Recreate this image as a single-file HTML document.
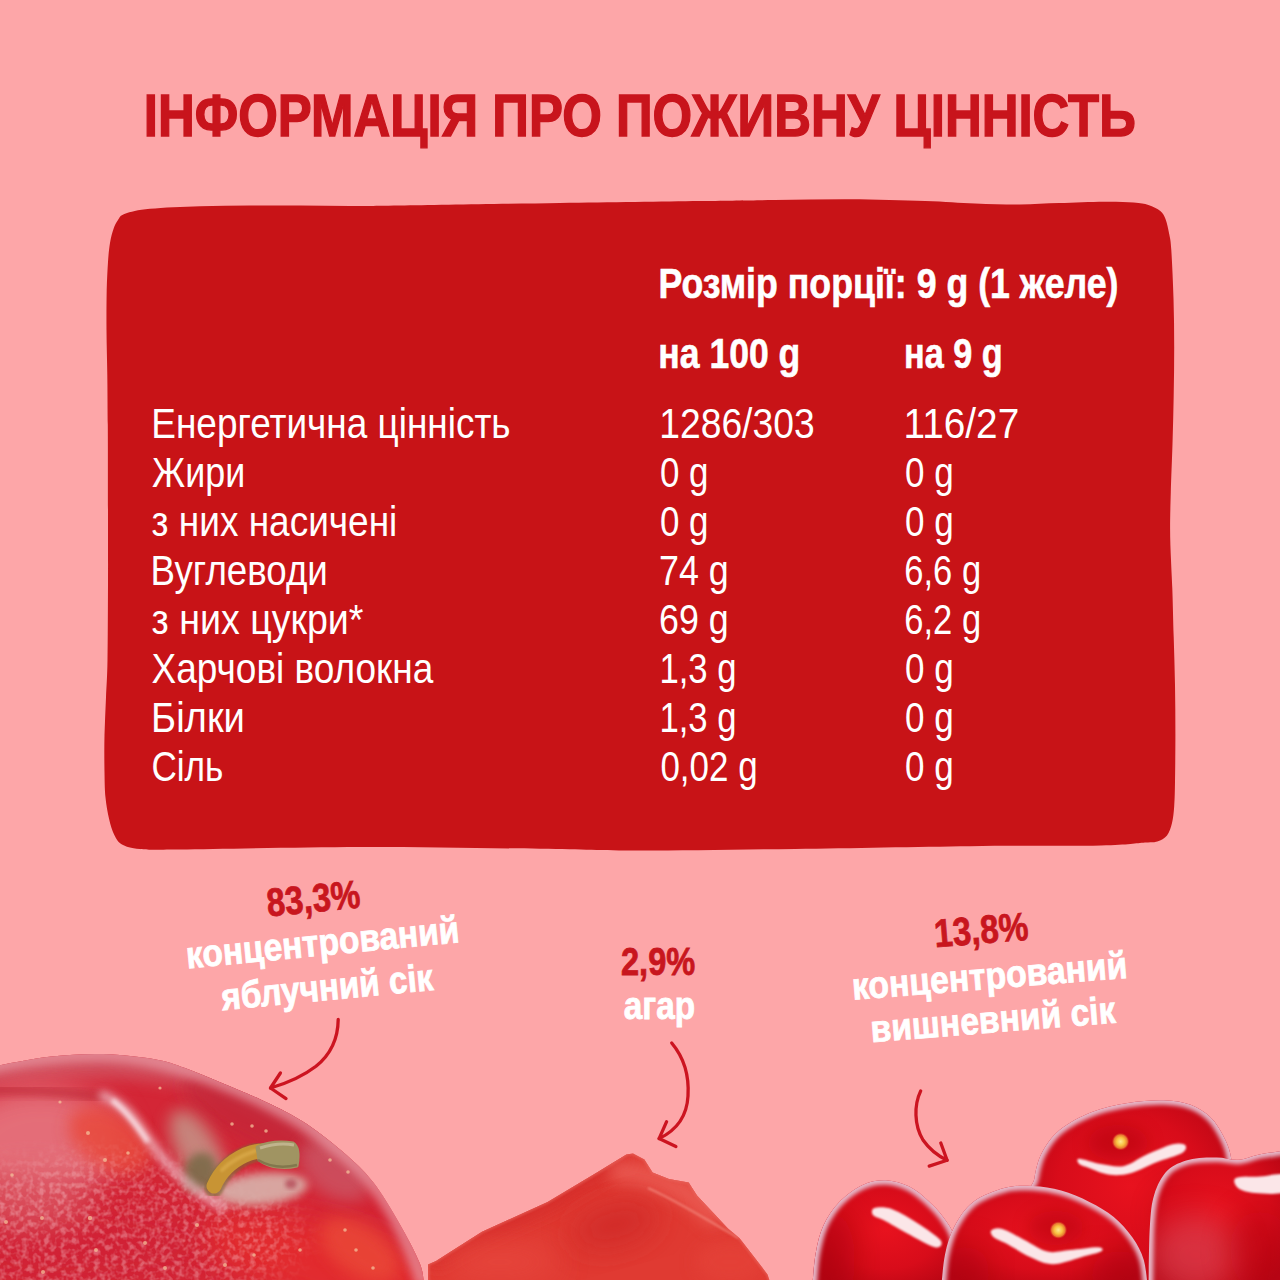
<!DOCTYPE html>
<html><head><meta charset="utf-8">
<style>
html,body{margin:0;padding:0;}
body{width:1280px;height:1280px;overflow:hidden;background:#fda6a8;}
svg{display:block;}
text{font-family:"Liberation Sans",sans-serif;}
.t{fill:#c8141c;stroke:#c8141c;stroke-width:1.4px;font-weight:bold;font-size:60px;}
.h{fill:#fff;stroke:#fff;stroke-width:0.6px;font-weight:bold;font-size:42.5px;}
.r{fill:#fff;font-size:42px;}
.p{fill:#c8161e;stroke:#c8161e;stroke-width:0.8px;font-weight:bold;font-size:39.5px;}
.w{fill:#fff;stroke:#fff;stroke-width:0.8px;font-weight:bold;font-size:38px;}
</style></head>
<body>
<svg width="1280" height="1280" viewBox="0 0 1280 1280">
<rect width="1280" height="1280" fill="#fda6a8"/>
<!-- red box -->
<path id="box" fill="#c81317" d="M125.0,213.8 C130.3,211.9 137.5,210.0 150.0,208.8 C162.5,207.5 183.3,206.8 200.0,206.2 C216.7,205.7 233.3,205.6 250.0,205.5 C266.7,205.4 283.3,205.4 300.0,205.5 C316.7,205.6 333.3,206.0 350.0,206.0 C366.7,206.0 365.0,206.0 400.0,205.5 C435.0,205.0 510.0,203.8 560.0,203.0 C610.0,202.2 664.2,201.5 700.0,201.0 C735.8,200.5 750.0,200.3 775.0,200.0 C800.0,199.7 825.0,199.1 850.0,199.2 C875.0,199.4 904.2,200.3 925.0,201.0 C945.8,201.7 959.2,202.9 975.0,203.5 C990.8,204.1 1005.9,204.6 1020.0,204.5 C1034.1,204.4 1045.4,203.5 1059.4,203.1 C1073.4,202.7 1091.5,201.9 1103.9,201.8 C1116.3,201.7 1126.2,202.0 1133.6,202.5 C1141.0,203.0 1144.0,203.6 1148.4,205.0 C1152.9,206.4 1157.5,208.7 1160.3,211.0 C1163.1,213.3 1164.0,215.2 1165.5,219.0 C1167.0,222.8 1168.2,228.8 1169.2,234.0 C1170.2,239.2 1170.6,239.3 1171.3,250.0 C1172.0,260.7 1173.0,282.2 1173.5,298.4 C1174.0,314.5 1174.2,330.8 1174.2,346.9 C1174.2,363.0 1174.0,379.2 1173.7,395.3 C1173.4,411.4 1173.0,427.6 1172.5,443.7 C1172.0,459.8 1171.2,477.9 1170.8,492.0 C1170.4,506.1 1170.1,517.1 1170.1,528.4 C1170.1,539.7 1170.6,550.0 1171.0,560.0 C1171.4,570.0 1171.8,575.6 1172.3,588.4 C1172.8,601.2 1173.2,620.8 1173.7,636.9 C1174.2,653.0 1174.7,669.2 1175.0,685.3 C1175.3,701.4 1175.4,717.6 1175.4,733.7 C1175.4,749.8 1175.2,769.9 1175.0,782.0 C1174.8,794.1 1174.7,799.5 1174.2,806.3 C1173.7,813.1 1173.2,818.1 1172.0,823.0 C1170.8,827.9 1169.5,832.3 1167.0,835.4 C1164.5,838.5 1161.0,840.2 1157.3,841.4 C1153.6,842.6 1154.4,841.8 1145.0,842.5 C1135.6,843.2 1130.2,844.8 1101.0,845.4 C1071.8,846.0 1021.0,845.6 970.0,846.2 C919.0,846.8 850.0,848.2 795.0,848.9 C740.0,849.6 682.5,850.6 640.0,850.6 C597.5,850.6 586.7,849.4 540.0,848.8 C493.3,848.2 420.0,846.9 360.0,847.0 C300.0,847.1 216.7,849.2 180.0,849.5 C143.3,849.8 149.7,849.8 140.0,849.0 C130.3,848.2 126.3,846.9 122.0,844.5 C117.7,842.1 116.4,839.0 114.2,834.7 C112.0,830.5 110.5,825.2 109.1,819.0 C107.6,812.8 106.3,805.2 105.5,797.5 C104.7,789.8 104.7,782.9 104.5,772.5 C104.3,762.1 104.2,747.5 104.5,735.0 C104.8,722.5 105.5,710.0 106.0,697.5 C106.5,685.0 107.2,678.8 107.5,660.0 C107.8,641.2 107.9,608.3 108.0,585.0 C108.1,561.7 108.0,546.7 108.0,520.0 C108.0,493.3 107.9,449.2 107.8,425.0 C107.6,400.8 107.5,390.8 107.3,375.0 C107.1,359.2 106.6,344.2 106.5,330.0 C106.4,315.8 106.5,301.3 106.7,290.0 C107.0,278.7 107.5,269.8 108.0,262.0 C108.5,254.2 109.1,248.5 110.0,243.0 C110.9,237.5 112.2,232.8 113.5,229.0 C114.8,225.2 116.1,222.5 118.0,220.0 C119.9,217.5 119.7,215.6 125.0,213.8Z"/>
<text textLength="992.0" lengthAdjust="spacingAndGlyphs" class="t" x="143.8" y="135.6">ІНФОРМАЦІЯ ПРО ПОЖИВНУ ЦІННІСТЬ</text>
<text textLength="459.9" lengthAdjust="spacingAndGlyphs" class="h" x="658.6" y="297.8">Розмір порції: 9 g (1 желе)</text>
<text textLength="142.0" lengthAdjust="spacingAndGlyphs" class="h" x="658.3" y="367.8">на 100 g</text>
<text textLength="98.6" lengthAdjust="spacingAndGlyphs" class="h" x="904.0" y="367.8">на 9 g</text>
<g class="r">
<text textLength="359.3" lengthAdjust="spacingAndGlyphs" x="151.3" y="438">Енергетична цінність</text>
<text textLength="93.2" lengthAdjust="spacingAndGlyphs" x="152.0" y="487">Жири</text>
<text textLength="245.7" lengthAdjust="spacingAndGlyphs" x="151.6" y="536">з них насичені</text>
<text textLength="177.5" lengthAdjust="spacingAndGlyphs" x="150.4" y="585">Вуглеводи</text>
<text textLength="211.8" lengthAdjust="spacingAndGlyphs" x="151.6" y="634">з них цукри*</text>
<text textLength="281.7" lengthAdjust="spacingAndGlyphs" x="151.6" y="683">Харчові волокна</text>
<text textLength="93.8" lengthAdjust="spacingAndGlyphs" x="151.1" y="732">Білки</text>
<text textLength="72.0" lengthAdjust="spacingAndGlyphs" x="151.4" y="781">Сіль</text>
<text textLength="155.3" lengthAdjust="spacingAndGlyphs" x="659.3" y="438">1286/303</text>
<text textLength="48.6" lengthAdjust="spacingAndGlyphs" x="659.9" y="487">0 g</text>
<text textLength="48.6" lengthAdjust="spacingAndGlyphs" x="659.9" y="536">0 g</text>
<text textLength="69.7" lengthAdjust="spacingAndGlyphs" x="659.0" y="585">74 g</text>
<text textLength="69.7" lengthAdjust="spacingAndGlyphs" x="659.0" y="634">69 g</text>
<text textLength="77.2" lengthAdjust="spacingAndGlyphs" x="659.4" y="683">1,3 g</text>
<text textLength="77.2" lengthAdjust="spacingAndGlyphs" x="659.4" y="732">1,3 g</text>
<text textLength="97.2" lengthAdjust="spacingAndGlyphs" x="660.4" y="781">0,02 g</text>
<text textLength="115.7" lengthAdjust="spacingAndGlyphs" x="903.5" y="438">116/27</text>
<text textLength="48.7" lengthAdjust="spacingAndGlyphs" x="905.1" y="487">0 g</text>
<text textLength="48.7" lengthAdjust="spacingAndGlyphs" x="905.1" y="536">0 g</text>
<text textLength="76.8" lengthAdjust="spacingAndGlyphs" x="904.3" y="585">6,6 g</text>
<text textLength="76.8" lengthAdjust="spacingAndGlyphs" x="904.3" y="634">6,2 g</text>
<text textLength="48.7" lengthAdjust="spacingAndGlyphs" x="905.1" y="683">0 g</text>
<text textLength="48.7" lengthAdjust="spacingAndGlyphs" x="905.1" y="732">0 g</text>
<text textLength="48.7" lengthAdjust="spacingAndGlyphs" x="905.1" y="781">0 g</text>
</g>
<!-- fruits -->
<defs>
<filter id="frost" x="0" y="0" width="100%" height="100%"><feTurbulence type="fractalNoise" baseFrequency="0.18" numOctaves="2" seed="7" result="n"/><feColorMatrix in="n" type="matrix" values="0 0 0 0 1  0 0 0 0 0.86  0 0 0 0 0.88  0 0 0 -3 1.75"/></filter>
<mask id="mFrost" maskUnits="userSpaceOnUse" x="-50" y="1000" width="600" height="320"><ellipse cx="110" cy="1235" rx="190" ry="75" fill="#fff" filter="url(#b15)"/></mask>
<filter id="b1" x="-20%" y="-20%" width="140%" height="140%"><feGaussianBlur stdDeviation="1"/></filter>
<filter id="b2" x="-20%" y="-20%" width="140%" height="140%"><feGaussianBlur stdDeviation="2"/></filter>
<filter id="b4" x="-30%" y="-30%" width="160%" height="160%"><feGaussianBlur stdDeviation="4"/></filter>
<filter id="b8" x="-50%" y="-50%" width="200%" height="200%"><feGaussianBlur stdDeviation="8"/></filter>
<filter id="b15" x="-50%" y="-50%" width="200%" height="200%"><feGaussianBlur stdDeviation="15"/></filter>
<clipPath id="cpApple"><path id="appleP" d="M-20.0,1070.0 C-16.7,1069.2 -11.9,1067.4 0.0,1065.2 C11.9,1063.0 34.3,1058.5 51.5,1056.6 C68.7,1054.7 85.8,1053.6 103.0,1054.0 C120.2,1054.4 140.9,1056.9 154.6,1059.2 C168.3,1061.5 174.0,1064.1 185.0,1068.0 C196.0,1071.9 207.9,1077.2 220.6,1082.5 C233.3,1087.8 247.4,1093.4 261.0,1099.8 C274.6,1106.2 288.4,1112.4 302.0,1121.0 C315.6,1129.6 330.7,1141.4 342.5,1151.6 C354.3,1161.8 363.6,1170.2 373.0,1182.0 C382.4,1193.8 391.2,1209.2 399.0,1222.7 C406.8,1236.2 415.5,1252.6 419.7,1263.0 C423.9,1273.4 423.3,1281.3 424.0,1285.0 L-20,1285 Z"/></clipPath>
<clipPath id="cpJel"><path id="jelP" d="M428.0,1285.0 L428.0,1264.5 L436.0,1261.0 L482.0,1231.7 L547.6,1202.0 L596.9,1172.6 L626.4,1154.6 L633.0,1153.6 L644.4,1159.5 L652.6,1172.6 L669.0,1179.0 L688.7,1182.5 L697.0,1195.6 L728.0,1228.4 L739.6,1238.3 L767.5,1274.4 L771.0,1285.0 Z"/></clipPath>
<clipPath id="cpA"><path id="cAP" d="M812.0,1290.0 C812.6,1284.0 813.7,1264.5 815.6,1253.8 C817.5,1243.0 819.5,1234.2 823.4,1225.6 C827.3,1217.0 832.5,1209.0 839.0,1202.2 C845.5,1195.4 854.7,1188.7 862.5,1185.0 C870.3,1181.3 878.2,1180.0 886.0,1180.3 C893.8,1180.6 902.4,1183.2 909.4,1186.6 C916.4,1190.0 922.3,1195.4 928.0,1200.6 C933.7,1205.8 939.2,1211.2 943.8,1217.8 C948.2,1224.4 952.3,1228.0 955.0,1240.0 C957.7,1252.0 959.2,1281.7 960.0,1290.0 Z"/></clipPath>
<clipPath id="cpB"><path id="cBP" d="M941.0,1290.0 C941.7,1284.1 942.8,1265.0 945.0,1254.4 C947.2,1243.8 949.7,1235.0 954.4,1226.2 C959.1,1217.5 964.7,1208.3 973.1,1201.9 C981.5,1195.5 995.0,1190.5 1005.0,1187.8 C1015.0,1185.1 1023.6,1185.5 1033.0,1186.0 C1042.4,1186.5 1051.8,1187.9 1061.2,1190.6 C1070.7,1193.2 1080.7,1197.5 1089.4,1201.9 C1098.2,1206.3 1106.6,1211.0 1113.8,1216.9 C1120.9,1222.8 1127.5,1230.3 1132.5,1237.5 C1137.5,1244.7 1141.2,1251.2 1143.8,1260.0 C1146.3,1268.8 1147.3,1285.0 1148.0,1290.0 Z"/></clipPath>
<clipPath id="cpC"><path id="cCP" d="M1034.0,1200.0 C1023.1,1189.7 1033.1,1186.2 1034.4,1178.4 C1035.7,1170.6 1037.4,1161.4 1041.6,1153.3 C1045.8,1145.2 1051.1,1136.9 1059.5,1130.0 C1067.9,1123.1 1080.5,1116.5 1091.9,1112.0 C1103.3,1107.5 1115.8,1105.0 1127.8,1103.0 C1139.8,1101.0 1153.3,1100.0 1163.8,1100.3 C1174.2,1100.6 1182.9,1102.0 1190.7,1104.8 C1198.5,1107.6 1205.1,1112.2 1210.5,1117.3 C1215.9,1122.4 1219.7,1129.3 1223.0,1135.3 C1226.3,1141.3 1228.7,1146.7 1230.2,1153.3 C1231.7,1159.9 1232.5,1166 1232.0,1175.0 L1220,1290 L1040,1290 L1034.0,1200.0Z"/></clipPath>
<clipPath id="cpD"><path id="cDP" d="M1148.5,1290.0 C1148.7,1279.6 1148.8,1243.4 1149.8,1227.5 C1150.8,1211.6 1151.3,1204.2 1154.2,1194.7 C1157.1,1185.2 1161.6,1176.4 1167.4,1170.6 C1173.2,1164.8 1181.0,1161.9 1189.2,1159.7 C1197.4,1157.5 1208.4,1157.5 1216.6,1157.5 C1224.8,1157.5 1231.2,1160.2 1238.5,1159.7 C1245.8,1159.2 1251.7,1155.8 1260.3,1154.2 C1268.9,1152.6 1285.0,1150.7 1290.0,1150.0 L1290,1290 Z"/></clipPath>
<radialGradient id="gCh" cx="0.5" cy="0.45" r="0.6"><stop offset="0" stop-color="#e8121e"/><stop offset="0.6" stop-color="#d80c1a"/><stop offset="1" stop-color="#ba0614"/></radialGradient>
<linearGradient id="gJel" x1="0" y1="1" x2="1" y2="0"><stop offset="0" stop-color="#e84640"/><stop offset="0.5" stop-color="#d8302e"/><stop offset="1" stop-color="#e4564e"/></linearGradient>
</defs>
<!-- jelly -->
<g clip-path="url(#cpJel)">
<rect x="420" y="1150" width="360" height="140" fill="#e03a32"/>
<path d="M430,1262 L482,1233 L548,1203 L597,1174 L630,1156" fill="none" stroke="#d22a2a" stroke-width="18" filter="url(#b8)" opacity="0.7"/>
<path d="M610,1172 C630,1170 650,1178 670,1186 C690,1192 705,1205 720,1222" fill="none" stroke="#ec6058" stroke-width="22" filter="url(#b8)" opacity="0.8"/>
<ellipse cx="615" cy="1225" rx="45" ry="22" transform="rotate(-15 615 1225)" fill="#cc2626" filter="url(#b15)" opacity="0.7"/>
<ellipse cx="500" cy="1262" rx="60" ry="20" fill="#e84a40" filter="url(#b15)" opacity="0.7"/>
<ellipse cx="730" cy="1262" rx="35" ry="22" fill="#e6443a" filter="url(#b8)" opacity="0.6"/>
<path d="M648,1188 C675,1200 705,1218 738,1238" fill="none" stroke="#f2857a" stroke-width="2" filter="url(#b1)" opacity="0.8"/>
<use href="#jelP" fill="none" stroke="#e86a62" stroke-width="3" filter="url(#b1)" opacity="0.6"/>
</g>
<!-- apple -->
<g clip-path="url(#cpApple)">
<rect x="-20" y="1040" width="460" height="250" fill="#d42636"/>
<!-- top rim muted band -->
<path d="M-20,1072 C40,1060 110,1058 170,1068 C230,1082 290,1108 340,1148" fill="none" stroke="#d25866" stroke-width="30" filter="url(#b8)" opacity="0.9"/>
<!-- upper area above stem -->
<ellipse cx="255" cy="1118" rx="80" ry="28" transform="rotate(28 255 1118)" fill="#c42838" filter="url(#b8)" opacity="0.8"/>
<!-- left lobe -->
<ellipse cx="40" cy="1140" rx="85" ry="55" fill="#e67680" filter="url(#b15)" opacity="0.9"/>
<ellipse cx="110" cy="1140" rx="45" ry="28" transform="rotate(30 110 1140)" fill="#e84a3c" filter="url(#b8)" opacity="0.85"/>
<ellipse cx="70" cy="1245" rx="150" ry="45" fill="#d02434" filter="url(#b15)" opacity="0.85"/>
<ellipse cx="30" cy="1200" rx="60" ry="30" fill="#dc5a66" filter="url(#b15)" opacity="0.7"/>
<!-- lower right bright -->
<ellipse cx="320" cy="1262" rx="120" ry="40" transform="rotate(15 320 1262)" fill="#e22a2e" filter="url(#b15)"/>
<ellipse cx="360" cy="1250" rx="45" ry="25" transform="rotate(35 360 1250)" fill="#ea4a38" filter="url(#b8)" opacity="0.8"/>
<g mask="url(#mFrost)"><rect x="-20" y="1090" width="420" height="200" filter="url(#frost)" opacity="0.3"/></g>
<!-- dark band under rim -->
<path d="M-10,1090 C30,1090 75,1093 105,1098" fill="none" stroke="#bc2636" stroke-width="8" filter="url(#b4)" opacity="0.75"/>
<!-- right of stem muted pink -->
<ellipse cx="335" cy="1170" rx="40" ry="26" transform="rotate(35 335 1170)" fill="#cc5262" filter="url(#b8)" opacity="0.85"/>
<!-- cavity -->
<ellipse cx="198" cy="1150" rx="45" ry="20" transform="rotate(60 198 1150)" fill="#c49488" filter="url(#b8)" opacity="0.85"/>
<ellipse cx="200" cy="1172" rx="16" ry="20" transform="rotate(20 200 1172)" fill="#7c6a48" filter="url(#b4)" opacity="0.9"/>
<!-- pale cavity below stem -->
<ellipse cx="262" cy="1189" rx="46" ry="16" transform="rotate(-6 262 1189)" fill="#d8aca6" filter="url(#b4)" opacity="0.95"/>
<ellipse cx="291" cy="1184" rx="6" ry="5" fill="#b04050" filter="url(#b2)" opacity="0.7"/>
<!-- crease highlight -->
<path d="M100,1094 C115,1100 125,1108 133,1118 C142,1130 150,1142 160,1155 C170,1167 182,1180 196,1190 C205,1197 214,1203 226,1208" fill="none" stroke="#f0c6d0" stroke-width="8" filter="url(#b4)" opacity="0.85"/>
<path d="M112,1100 C125,1110 135,1122 148,1142" fill="none" stroke="#fae4ea" stroke-width="5" filter="url(#b2)" opacity="0.9"/>
<!-- right edge translucency -->
<path d="M-20,1068 C20,1058 70,1053 110,1054 C150,1056 200,1070 260,1098 C280,1108 295,1116 302,1121 C330,1140 360,1165 375,1184 C392,1205 410,1240 424,1285" fill="none" stroke="#e89aa4" stroke-width="16" filter="url(#b4)" opacity="0.7"/>
<!-- stem -->
<path d="M214,1188 C220,1174 230,1163 245,1156 C250,1154 256,1152 262,1151" fill="none" stroke="#7a6a34" stroke-width="19" stroke-linecap="round" opacity="0.6" filter="url(#b1)"/>
<path d="M214,1186 C220,1172 230,1162 245,1155 C250,1153 256,1151 262,1151" fill="none" stroke="#c89434" stroke-width="15" stroke-linecap="round"/>
<path d="M222,1170 C230,1162 240,1156 255,1151" fill="none" stroke="#dcac4c" stroke-width="4" stroke-linecap="round" opacity="0.7" filter="url(#b1)"/>
<path d="M257,1147 C266,1143 280,1141 293,1143 C298,1146 299,1155 297,1166 C285,1169 270,1168 259,1160 Z" fill="#a09462" stroke="#a09462" stroke-width="3" stroke-linejoin="round"/>
<path d="M260,1148 C272,1144 284,1143 294,1145" fill="none" stroke="#c8bc98" stroke-width="3" opacity="0.8"/>
<path d="M258,1160 C270,1167 284,1168 297,1165" fill="none" stroke="#6e6440" stroke-width="2.5" opacity="0.6"/>
<!-- speckles -->
<g fill="#f4c09a" opacity="0.75">
<circle cx="88" cy="1133" r="2"/><circle cx="105" cy="1160" r="2"/><circle cx="128" cy="1153" r="1.8"/><circle cx="42" cy="1218" r="2"/><circle cx="90" cy="1218" r="2.2"/><circle cx="6" cy="1222" r="2"/><circle cx="145" cy="1243" r="2"/><circle cx="96" cy="1250" r="2"/><circle cx="43" cy="1272" r="2"/><circle cx="165" cy="1268" r="2"/><circle cx="197" cy="1225" r="2"/><circle cx="225" cy="1265" r="2"/><circle cx="254" cy="1255" r="1.8"/><circle cx="300" cy="1250" r="1.8"/><circle cx="345" cy="1230" r="1.8"/><circle cx="356" cy="1250" r="1.8"/><circle cx="373" cy="1268" r="1.8"/><circle cx="232" cy="1124" r="1.8"/><circle cx="252" cy="1126" r="1.8"/><circle cx="266" cy="1131" r="1.8"/><circle cx="330" cy="1160" r="1.8"/><circle cx="348" cy="1172" r="1.8"/><circle cx="160" cy="1088" r="1.6"/><circle cx="60" cy="1102" r="1.6"/><circle cx="12" cy="1175" r="1.8"/>
</g>
</g>
<!-- cherries -->
<defs>
<radialGradient id="gSpot"><stop offset="0" stop-color="#ffe890"/><stop offset="0.45" stop-color="#f8c040"/><stop offset="0.75" stop-color="#e87830"/><stop offset="1" stop-color="#d82020" stop-opacity="0"/></radialGradient>
<linearGradient id="gShadeB" x1="0" y1="0" x2="0" y2="1"><stop offset="0" stop-color="#000" stop-opacity="0"/><stop offset="1" stop-color="#600008" stop-opacity="0.35"/></linearGradient>
</defs>
<g>
<use href="#cCP" fill="url(#gCh)"/>
<g clip-path="url(#cpC)">
<ellipse cx="1118" cy="1143" rx="30" ry="18" fill="#b0000e" filter="url(#b8)" opacity="0.5"/>
<ellipse cx="1200" cy="1215" rx="40" ry="25" fill="#a8000c" filter="url(#b15)" opacity="0.6"/>
<use href="#cCP" fill="none" stroke="#e6b6c6" stroke-width="9" filter="url(#b2)"/>
<path d="M1079.3,1158.7 C1082.9,1158.7 1093.4,1162.8 1100.9,1164.0 C1108.4,1165.2 1116.7,1167.4 1124.2,1165.9 C1131.7,1164.4 1137.7,1158.7 1145.8,1155.1 C1153.9,1151.5 1166.1,1145.9 1172.7,1144.3 C1179.3,1142.7 1183.8,1143.7 1185.3,1145.2 C1186.8,1146.7 1186.5,1150.5 1181.7,1153.3 C1176.9,1156.1 1165.0,1159.0 1156.6,1162.3 C1148.2,1165.6 1139.2,1170.9 1131.4,1173.0 C1123.6,1175.1 1117.0,1175.7 1109.8,1174.8 C1102.6,1173.9 1093.4,1169.5 1088.3,1167.7 C1083.2,1165.9 1080.8,1165.5 1079.3,1164.0 C1077.8,1162.5 1075.7,1158.7 1079.3,1158.7Z" fill="#fbe6e8" filter="url(#b1)"/>
<circle cx="1120.6" cy="1141.6" r="9" fill="url(#gSpot)"/>
</g>
<use href="#cAP" fill="url(#gCh)"/>
<g clip-path="url(#cpA)">
<ellipse cx="830" cy="1260" rx="25" ry="50" fill="#a8000c" filter="url(#b15)" opacity="0.6"/>
<use href="#cAP" fill="none" stroke="#e6b6c6" stroke-width="9" filter="url(#b2)"/>
<path d="M874.5,1208.0 C877.8,1207.1 885.5,1206.8 892.8,1209.4 C900.0,1212.0 910.0,1218.2 918.0,1223.4 C926.0,1228.6 937.8,1236.3 940.6,1240.3 C943.4,1244.3 940.6,1248.5 935.0,1247.3 C929.4,1246.1 915.3,1237.8 906.9,1233.3 C898.5,1228.8 890.0,1223.6 884.4,1220.6 C878.8,1217.5 874.6,1217.1 873.0,1215.0 C871.4,1212.9 871.2,1208.9 874.5,1208.0Z" fill="#fbe6e8" filter="url(#b1)"/>
</g>
<use href="#cBP" fill="url(#gCh)"/>
<g clip-path="url(#cpB)">
<ellipse cx="1056" cy="1228" rx="28" ry="17" fill="#b0000e" filter="url(#b8)" opacity="0.5"/>
<ellipse cx="965" cy="1275" rx="25" ry="30" fill="#a8000c" filter="url(#b15)" opacity="0.5"/>
<ellipse cx="1120" cy="1275" rx="30" ry="25" fill="#a8000c" filter="url(#b15)" opacity="0.5"/>
<use href="#cBP" fill="none" stroke="#e6b6c6" stroke-width="9" filter="url(#b2)"/>
<path d="M991.2,1230.5 C992.6,1229.1 996.9,1227.4 1002.5,1229.0 C1008.1,1230.6 1017.5,1236.5 1025.0,1240.3 C1032.5,1244.1 1040.0,1250.0 1047.5,1251.6 C1055.0,1253.2 1061.6,1250.8 1070.0,1250.1 C1078.4,1249.4 1092.8,1247.0 1098.0,1247.3 C1103.2,1247.5 1103.8,1249.9 1101.0,1251.6 C1098.2,1253.2 1089.2,1255.1 1081.2,1257.2 C1073.2,1259.3 1061.4,1264.2 1053.0,1264.2 C1044.6,1264.2 1038.1,1260.5 1030.6,1257.2 C1023.1,1253.9 1014.1,1247.8 1008.0,1244.5 C1001.9,1241.2 996.8,1239.8 994.0,1237.5 C991.2,1235.2 989.8,1231.9 991.2,1230.5Z" fill="#fbe6e8" filter="url(#b1)"/>
<circle cx="1058.4" cy="1230" r="9" fill="url(#gSpot)"/>
</g>
<use href="#cDP" fill="url(#gCh)"/>
<g clip-path="url(#cpD)">
<ellipse cx="1195" cy="1255" rx="45" ry="40" fill="#d84858" filter="url(#b15)" opacity="0.6"/>
<ellipse cx="1260" cy="1250" rx="30" ry="40" fill="#a8000c" filter="url(#b15)" opacity="0.4"/>
<use href="#cDP" fill="none" stroke="#e6b6c6" stroke-width="9" filter="url(#b2)"/>
<path d="M1236.0,1178.0 C1239.7,1176.1 1251.8,1177.0 1260.0,1176.5 C1268.2,1176.0 1280.8,1172.4 1285.0,1175.0 C1289.2,1177.6 1290.0,1189.0 1285.0,1192.0 C1280.0,1195.0 1262.8,1193.7 1255.0,1193.0 C1247.2,1192.3 1241.2,1190.5 1238.0,1188.0 C1234.8,1185.5 1232.3,1179.9 1236.0,1178.0Z" fill="#fbe6e8" filter="url(#b1)"/>
</g>
</g>
<!-- labels -->
<g text-anchor="middle" lengthAdjust="spacingAndGlyphs">
<text class="p" textLength="93.5" lengthAdjust="spacingAndGlyphs" x="314.6" y="912" transform="rotate(-5.5 314.6 912)">83,3%</text>
<text class="w" textLength="274.2" lengthAdjust="spacingAndGlyphs" x="323.8" y="955.3" transform="rotate(-5.5 323.8 955.3)">концентрований</text>
<text class="w" textLength="212.6" lengthAdjust="spacingAndGlyphs" x="328.4" y="1000" transform="rotate(-5.5 328.4 1000)">яблучний сік</text>
<text class="p" textLength="74.2" lengthAdjust="spacingAndGlyphs" x="658.1" y="975">2,9%</text>
<text class="w" textLength="71.4" lengthAdjust="spacingAndGlyphs" x="659.5" y="1019">агар</text>
<text class="p" textLength="94.2" lengthAdjust="spacingAndGlyphs" x="982.2" y="943.4" transform="rotate(-4.6 982.2 943.4)">13,8%</text>
<text class="w" textLength="276.2" lengthAdjust="spacingAndGlyphs" x="990.6" y="988.8" transform="rotate(-4.6 990.6 988.8)">концентрований</text>
<text class="w" textLength="245.4" lengthAdjust="spacingAndGlyphs" x="993.9" y="1032.4" transform="rotate(-4.6 993.9 1032.4)">вишневний сік</text>
</g>
<!-- arrows -->
<g fill="none" stroke="#cc1420" stroke-width="3.3" stroke-linecap="round" stroke-linejoin="round">
<path d="M338.2,1019.5 C338,1040 330,1055 316,1066.3 C302,1077 288,1083 270.5,1088"/>
<path d="M280.4,1073 L270.5,1088 L286,1098.6"/>
<path d="M671.7,1043 C686,1060 689,1080 688,1096 C687,1115 677,1130 659.1,1138.6"/>
<path d="M666.6,1121.7 L659.1,1138.6 L675.9,1146.5"/>
<path d="M920.7,1090.9 C914,1105 914,1125 923,1140 C930,1150 938,1156 947.1,1160.2"/>
<path d="M940.8,1143 L947.1,1160.2 L929.2,1166.1"/>
</g>
</svg>
</body></html>
